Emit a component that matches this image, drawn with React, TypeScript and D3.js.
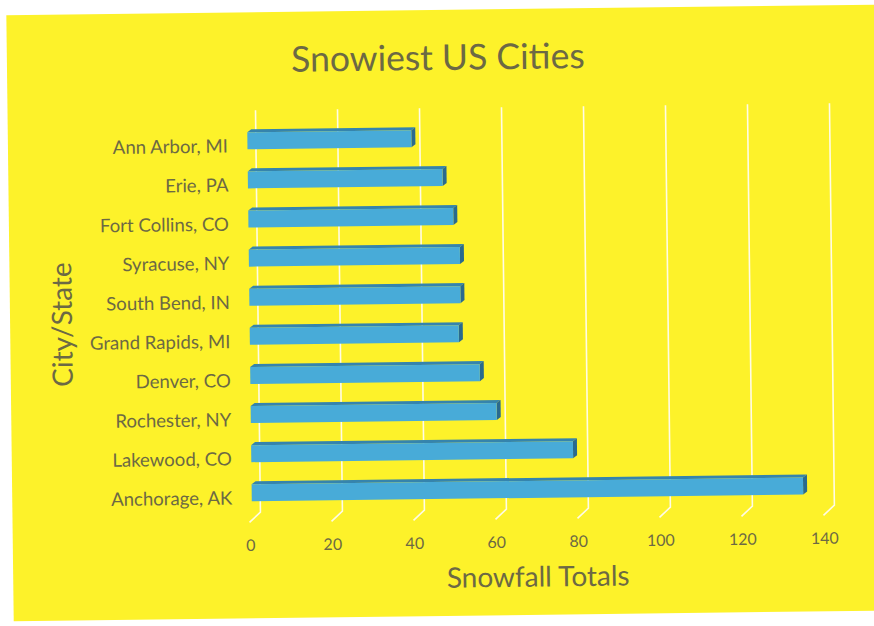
import * as d3 from "d3";
import React from "react";

// data
const cities = [
  "Ann Arbor, MI",
  "Erie, PA",
  "Fort Collins, CO",
  "Syracuse, NY",
  "South Bend, IN",
  "Grand Rapids, MI",
  "Denver, CO",
  "Rochester, NY",
  "Lakewood, CO",
  "Anchorage, AK",
];
const snowfall = [40, 47.5, 50, 51.5, 51.5, 51, 56, 60, 78.5, 134.5];
const xTicks = [0, 20, 40, 60, 80, 100, 120, 140];

const W = 874;
const H = 626;
const FONT = "Lato, 'Open Sans', sans-serif";
const TEXT = "#6c6944";

const App = () => {
  // back wall of the 3d plot
  const x = d3.scaleLinear().domain([0, 140]).range([258, 832]);
  const y = d3.scalePoint().domain(cities).range([138.5, 490.5]);

  const gridTop = 108;
  const gridBottom = 510;
  const floorDx = -11;
  const floorDy = 10;

  const barOff = -8.5; // front face sits in front of the back wall
  const barH = 17;
  const depthX = 4;
  const depthY = 3;

  return (
    <svg
      width={W}
      height={H}
      style={{ position: "fixed", left: 0, top: 0, background: "#ffffff" }}
    >
      <g transform={`rotate(-0.7 ${W / 2} ${H / 2})`}>
        <rect x={10} y={10} width={880} height={606} fill="#fdf22a" />

        {/* title */}
        <text
          x={441}
          y={70}
          textAnchor="middle"
          fontFamily={FONT}
          fontSize={35.5}
          fill={TEXT}
        >
          Snowiest US Cities
        </text>

        {/* grid lines with the floor edges */}
        {xTicks.map((t) => (
          <path
            key={"g" + t}
            d={`M${x(t)},${gridTop}V${gridBottom}l${floorDx},${floorDy}`}
            fill="none"
            stroke="#fffbe6"
            strokeWidth={1.6}
          />
        ))}

        {/* bars */}
        {cities.map((c, i) => {
          const yc = y(c) as number;
          const top = yc - barH / 2;
          const x0 = x(0) + barOff;
          const x1 = x(snowfall[i]) + barOff;
          return (
            <g key={c}>
              <polygon
                points={`${x0},${top} ${x0 + depthX},${top - depthY} ${x1 + depthX},${top - depthY} ${x1},${top}`}
                fill="#3584ad"
              />
              <polygon
                points={`${x1},${top} ${x1 + depthX},${top - depthY} ${x1 + depthX},${top + barH - depthY} ${x1},${top + barH}`}
                fill="#2a6a8e"
              />
              <rect x={x0} y={top} width={x1 - x0} height={barH} fill="#48abd8" />
            </g>
          );
        })}

        {/* category labels */}
        {cities.map((c) => (
          <text
            key={"l" + c}
            x={230}
            y={(y(c) as number) + 5}
            dy="0.35em"
            textAnchor="end"
            fontFamily={FONT}
            fontSize={18.6}
            fill={TEXT}
          >
            {c}
          </text>
        ))}

        {/* value ticks */}
        {xTicks.map((t) => (
          <text
            key={"t" + t}
            x={x(t) + floorDx + 1}
            y={543}
            dy="0.35em"
            textAnchor="middle"
            fontFamily={FONT}
            fontSize={16}
            fill={TEXT}
          >
            {t}
          </text>
        ))}

        {/* axis titles */}
        <text
          x={535}
          y={578}
          dy="0.35em"
          textAnchor="middle"
          fontFamily={FONT}
          fontSize={28}
          fill={TEXT}
        >
          Snowfall Totals
        </text>
        <text
          transform="translate(62,320) rotate(-90)"
          dy="0.35em"
          textAnchor="middle"
          fontFamily={FONT}
          fontSize={28}
          fill={TEXT}
        >
          City/State
        </text>
      </g>
    </svg>
  );
};

export default App;
